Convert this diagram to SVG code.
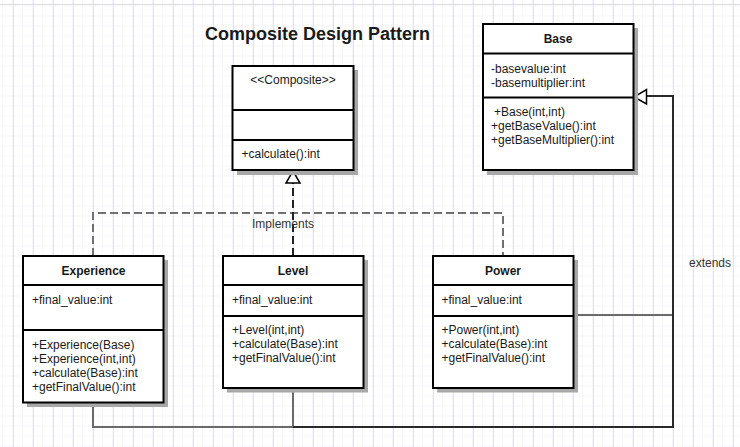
<svg xmlns="http://www.w3.org/2000/svg" width="740" height="447" viewBox="0 0 740 447">
<style>
text{font-family:"Liberation Sans",Arial,sans-serif;font-size:12px;fill:#1a1a1a}
.b{font-weight:bold}
.c{text-anchor:middle}
.box{fill:#fff;stroke:#000;stroke-width:2}
.sh{fill:#a8a8a8}
.div{stroke:#000;stroke-width:2}
.dash{fill:none;stroke:#707070;stroke-width:2;stroke-dasharray:8 4}
.ext{fill:none;stroke:#2a2a2a;stroke-width:2}
.ext2{fill:none;stroke:#6a6a6a;stroke-width:2}
.lbl{fill:#333}
</style>
<defs>
<pattern id="grid" x="3" y="6.5" width="10" height="10" patternUnits="userSpaceOnUse">
<path d="M10 0V10M0 10H10" fill="none" stroke="#ececf6" stroke-width="1"/>
</pattern>
<pattern id="grid2" x="13" y="6.5" width="20" height="20" patternUnits="userSpaceOnUse">
<path d="M0.5 0V20" fill="none" stroke="#e2e2f0" stroke-width="1"/>
</pattern>
</defs>
<rect width="740" height="447" fill="#fff"/>
<rect width="740" height="447" fill="url(#grid)"/>
<rect width="740" height="447" fill="url(#grid2)"/>
<line x1="0" y1="4.5" x2="740" y2="4.5" stroke="#dcdcdc" stroke-width="1"/>

<text class="b" x="205" y="40" style="font-size:18px">Composite Design Pattern</text>

<g id="connectors">
<path class="dash" d="M93 256V213H503V256"/>
<path class="dash" d="M293 256V183" style="stroke:#222"/>
<polygon points="293,171 286,183 300,183" fill="#fff" stroke="#000" stroke-width="1.5"/>
<text class="lbl" x="252" y="227.5">Implements</text>
<path class="ext2" d="M93 402V427H293V388"/>
<path class="ext2" d="M573 315H673"/>
<path class="ext" d="M293 427H673V96H646"/>
<polygon points="634,97 646.5,89.5 646.5,104" fill="#fff" stroke="#000" stroke-width="1.5"/>
<text class="lbl" x="689" y="267">extends</text>
</g>

<g id="composite">
<rect class="sh" x="237" y="70" width="121" height="105"/>
<rect class="box" x="232.5" y="66" width="121" height="104"/>
<line class="div" x1="232.5" y1="110" x2="353.5" y2="110"/>
<line class="div" x1="232.5" y1="140" x2="353.5" y2="140"/>
<text class="c" x="293" y="84">&lt;&lt;Composite&gt;&gt;</text>
<text x="241.5" y="158">+calculate():int</text>
</g>

<g id="base">
<rect class="sh" x="487" y="28" width="151" height="147"/>
<rect class="box" x="483" y="24" width="150.5" height="146"/>
<line class="div" x1="483" y1="53.5" x2="633.5" y2="53.5"/>
<line class="div" x1="483" y1="97.5" x2="633.5" y2="97.5"/>
<text class="c b" x="558" y="43">Base</text>
<text x="491" y="73">-basevalue:int</text>
<text x="491" y="86.5">-basemultiplier:int</text>
<text x="494" y="116">+Base(int,int)</text>
<text x="491" y="130">+getBaseValue():int</text>
<text x="491" y="144">+getBaseMultiplier():int</text>
</g>

<g id="experience">
<rect class="sh" x="27" y="260" width="141" height="147"/>
<rect class="box" x="23" y="256" width="140.5" height="146.5"/>
<line class="div" x1="23" y1="285" x2="163.5" y2="285"/>
<line class="div" x1="23" y1="330" x2="163.5" y2="330"/>
<text class="c b" x="93.5" y="274.5">Experience</text>
<text x="32" y="304">+final_value:int</text>
<text x="32" y="348.5">+Experience(Base)</text>
<text x="32" y="362.5">+Experience(int,int)</text>
<text x="32" y="376.5">+calculate(Base):int</text>
<text x="32" y="390.5">+getFinalValue():int</text>
</g>

<g id="level">
<rect class="sh" x="227" y="260" width="141" height="132.5"/>
<rect class="box" x="223" y="256" width="140.5" height="132"/>
<line class="div" x1="223" y1="285" x2="363.5" y2="285"/>
<line class="div" x1="223" y1="316" x2="363.5" y2="316"/>
<text class="c b" x="293" y="274.5">Level</text>
<text x="232" y="304">+final_value:int</text>
<text x="232" y="333.5">+Level(int,int)</text>
<text x="232" y="347.5">+calculate(Base):int</text>
<text x="232" y="361.5">+getFinalValue():int</text>
</g>

<g id="power">
<rect class="sh" x="437" y="260" width="141" height="132.5"/>
<rect class="box" x="433" y="256" width="140.5" height="132"/>
<line class="div" x1="433" y1="285" x2="573.5" y2="285"/>
<line class="div" x1="433" y1="316" x2="573.5" y2="316"/>
<text class="c b" x="503" y="274.5">Power</text>
<text x="441.5" y="304">+final_value:int</text>
<text x="441.5" y="333.5">+Power(int,int)</text>
<text x="441.5" y="347.5">+calculate(Base):int</text>
<text x="441.5" y="361.5">+getFinalValue():int</text>
</g>
</svg>
